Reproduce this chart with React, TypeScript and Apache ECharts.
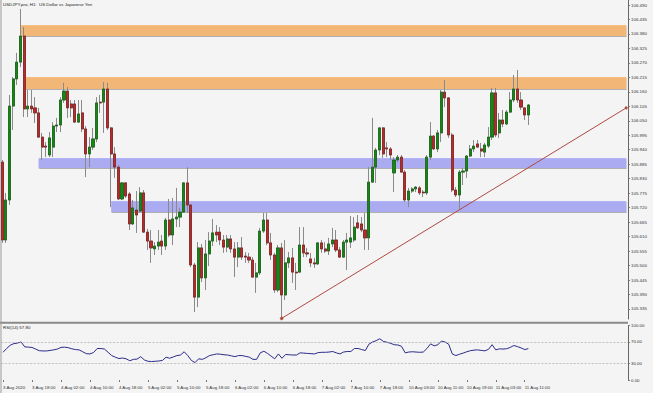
import React, { useEffect, useRef } from 'react';
import * as echarts from 'echarts';

const timeLabels = ['3 Aug 2020', '3 Aug 18:00', '4 Aug 02:00', '4 Aug 10:00', '4 Aug 18:00', '5 Aug 02:00', '5 Aug 10:00', '5 Aug 18:00', '6 Aug 02:00', '6 Aug 10:00', '6 Aug 18:00', '7 Aug 02:00', '7 Aug 10:00', '7 Aug 18:00', '10 Aug 03:00', '10 Aug 11:00', '10 Aug 19:00', '11 Aug 03:00', '11 Aug 11:00'];

const opens = [105.893, 105.597, 105.749, 106.106, 106.209, 106.273, 106.372, 106.095, 106.106, 106.099, 106.080, 105.988, 105.954, 105.920, 105.950, 106.030, 106.034, 106.129, 106.163, 106.114, 106.114, 106.045, 106.080, 106.019, 105.924, 105.950, 105.981, 106.121, 106.121, 106.171, 106.023, 105.924, 105.874, 105.753, 105.814, 105.772, 105.658, 105.711, 105.707, 105.776, 105.627, 105.593, 105.563, 105.574, 105.593, 105.574, 105.673, 105.616, 105.677, 105.684, 105.703, 105.814, 105.730, 105.502, 105.380, 105.567, 105.453, 105.544, 105.593, 105.627, 105.627, 105.597, 105.570, 105.601, 105.563, 105.532, 105.567, 105.536, 105.532, 105.521, 105.456, 105.472, 105.631, 105.673, 105.586, 105.540, 105.407, 105.567, 105.388, 105.510, 105.529, 105.475, 105.475, 105.578, 105.548, 105.525, 105.510, 105.506, 105.586, 105.563, 105.555, 105.582, 105.597, 105.559, 105.532, 105.589, 105.589, 105.597, 105.662, 105.658, 105.635, 105.605, 105.817, 105.874, 105.939, 106.023, 105.947, 105.943, 105.852, 105.901, 105.912, 105.855, 105.749, 105.783, 105.791, 105.795, 105.779, 105.776, 105.912, 105.992, 105.943, 106.004, 106.159, 106.137, 105.996, 105.787, 105.768, 105.855, 105.859, 105.916, 105.943, 105.962, 105.943, 105.931, 105.954, 105.988, 106.156, 106.004, 106.053, 106.038, 106.083, 106.129, 106.171, 106.129, 106.099, 106.072];

const closes = [105.597, 105.749, 106.106, 106.209, 106.273, 106.372, 106.095, 106.106, 106.095, 106.080, 105.988, 105.950, 105.950, 105.985, 106.030, 106.034, 106.129, 106.163, 106.099, 106.099, 106.045, 106.076, 106.019, 105.924, 105.950, 105.981, 106.118, 106.118, 106.171, 106.023, 105.924, 105.874, 105.753, 105.814, 105.764, 105.658, 105.719, 105.692, 105.776, 105.627, 105.593, 105.567, 105.574, 105.589, 105.574, 105.673, 105.616, 105.677, 105.684, 105.703, 105.814, 105.730, 105.502, 105.380, 105.567, 105.453, 105.544, 105.593, 105.624, 105.616, 105.597, 105.570, 105.601, 105.563, 105.532, 105.567, 105.532, 105.532, 105.521, 105.456, 105.472, 105.631, 105.673, 105.586, 105.540, 105.407, 105.567, 105.388, 105.510, 105.529, 105.475, 105.472, 105.578, 105.548, 105.544, 105.510, 105.506, 105.586, 105.563, 105.555, 105.582, 105.597, 105.559, 105.532, 105.589, 105.597, 105.605, 105.646, 105.643, 105.635, 105.605, 105.817, 105.874, 105.939, 106.023, 105.924, 105.943, 105.920, 105.901, 105.912, 105.855, 105.749, 105.783, 105.791, 105.798, 105.776, 105.776, 105.912, 105.992, 105.943, 106.004, 106.159, 106.137, 105.996, 105.787, 105.768, 105.855, 105.859, 105.916, 105.943, 105.954, 105.950, 105.935, 105.958, 105.988, 106.156, 105.996, 106.053, 106.038, 106.083, 106.129, 106.171, 106.129, 106.102, 106.072, 106.110];

const lows = [105.586, 105.586, 105.730, 106.015, 106.186, 106.254, 106.064, 106.064, 106.080, 106.042, 105.985, 105.901, 105.912, 105.912, 105.912, 106.007, 106.007, 106.118, 106.061, 106.064, 106.042, 106.042, 106.007, 105.836, 105.874, 105.939, 105.969, 106.080, 106.004, 106.015, 105.722, 105.833, 105.749, 105.749, 105.757, 105.635, 105.654, 105.624, 105.700, 105.624, 105.559, 105.510, 105.540, 105.559, 105.540, 105.559, 105.608, 105.578, 105.646, 105.646, 105.700, 105.700, 105.494, 105.323, 105.342, 105.437, 105.407, 105.498, 105.574, 105.589, 105.578, 105.548, 105.551, 105.548, 105.456, 105.494, 105.521, 105.510, 105.510, 105.453, 105.396, 105.464, 105.624, 105.578, 105.521, 105.396, 105.399, 105.299, 105.369, 105.491, 105.434, 105.407, 105.472, 105.532, 105.532, 105.494, 105.491, 105.502, 105.548, 105.548, 105.540, 105.570, 105.551, 105.529, 105.529, 105.483, 105.567, 105.589, 105.639, 105.627, 105.559, 105.559, 105.814, 105.814, 105.920, 105.909, 105.912, 105.901, 105.779, 105.893, 105.852, 105.741, 105.722, 105.776, 105.779, 105.768, 105.760, 105.768, 105.901, 105.939, 105.931, 105.969, 106.102, 105.985, 105.779, 105.760, 105.711, 105.806, 105.833, 105.912, 105.931, 105.947, 105.912, 105.912, 105.947, 105.977, 105.988, 105.985, 106.026, 106.034, 106.080, 106.121, 106.118, 106.091, 106.053, 106.034];

const highs = [105.901, 105.776, 106.148, 106.216, 106.308, 106.475, 106.406, 106.167, 106.167, 106.140, 106.099, 106.004, 105.969, 106.007, 106.045, 106.061, 106.140, 106.194, 106.178, 106.129, 106.129, 106.129, 106.129, 106.030, 105.988, 106.023, 106.140, 106.148, 106.197, 106.194, 106.026, 105.950, 105.882, 105.817, 105.817, 105.779, 105.749, 105.783, 105.798, 105.787, 105.639, 105.635, 105.589, 105.635, 105.616, 105.681, 105.753, 105.757, 105.795, 105.719, 105.817, 105.874, 105.734, 105.510, 105.589, 105.582, 105.597, 105.627, 105.677, 105.654, 105.646, 105.616, 105.616, 105.616, 105.589, 105.589, 105.608, 105.551, 105.548, 105.532, 105.510, 105.643, 105.700, 105.700, 105.624, 105.548, 105.578, 105.586, 105.597, 105.551, 105.567, 105.510, 105.646, 105.646, 105.567, 105.548, 105.529, 105.589, 105.597, 105.589, 105.605, 105.643, 105.635, 105.570, 105.597, 105.624, 105.688, 105.684, 105.692, 105.684, 105.700, 105.874, 106.061, 105.947, 106.026, 106.026, 105.969, 105.950, 105.912, 105.920, 105.920, 105.863, 105.795, 105.798, 105.802, 105.802, 105.787, 105.920, 106.045, 105.996, 106.015, 106.167, 106.205, 106.140, 106.004, 105.798, 105.863, 105.871, 105.920, 105.958, 105.977, 105.977, 105.966, 105.966, 106.026, 106.175, 106.175, 106.080, 106.091, 106.091, 106.159, 106.224, 106.243, 106.159, 106.102, 106.114];

const rsi14 = [51, 58, 64, 67, 68, 70, 61, 60.5, 60, 57, 54, 53.5, 53.5, 54.5, 55.5, 57, 60, 60.5, 59.5, 57.5, 56, 55.5, 52, 48.5, 48, 50.6, 58, 58, 57, 51, 45, 42, 39.5, 40.5, 39, 35.5, 38, 38.5, 43, 37, 34.5, 34, 34.5, 35, 36, 42, 40, 42.5, 45, 46, 52, 45, 36, 32, 39, 38, 41, 45, 46.5, 48, 47.5, 46.5, 46, 44.5, 43, 45, 45, 43.5, 42, 38, 38, 50, 53, 49, 44, 39, 48, 40, 47, 46.5, 46, 46, 50, 49.5, 49, 48.5, 48, 50.5, 51, 51, 51.5, 52.5, 50, 48, 51.5, 52.5, 52.5, 58, 58, 56, 54.3, 66, 70, 72.5, 76, 71, 69.5, 67.5, 65, 64.5, 62, 50, 51.5, 52, 51.5, 51, 51.5, 58, 66.5, 63, 65, 71.5, 70, 66, 48, 45, 47.5, 49.5, 52, 54, 55, 55.5, 54.5, 53.7, 56.5, 65, 55.5, 57.4, 57, 57.5, 60, 63.5, 61.5, 59, 56, 57.8];

const priceTicks = [105.335, 105.390, 105.445, 105.500, 105.555, 105.610, 105.665, 105.720, 105.775, 105.830, 105.885, 105.940, 105.995, 106.050, 106.105, 106.160, 106.215, 106.270, 106.325, 106.380, 106.435, 106.490];
const rsiTicks = [0, 30, 70, 100];

// supply / demand zones: [lower price, upper price], first bar index
const orangeZones = [[106.372, 106.414], [106.171, 106.216]];
const orangeStarts = [5, 6];
const blueZones = [[105.871, 105.909], [105.703, 105.745]];
const blueStarts = [10, 30];

const trendBars = [77, 172];
const trendPrices = [105.299, 106.099];
const totalBars = 173;

const FONT = 'Liberation Sans, Arial, sans-serif';

export default function App() {
  const ref = useRef<HTMLDivElement>(null);
  useEffect(() => {
    if (!ref.current) return;
    const chart = echarts.init(ref.current, undefined, { renderer: 'svg' });
    const cats = Array.from({ length: totalBars }, (_, i) => String(i));
    const wickData = opens.map((o, i) => [o, closes[i], lows[i], highs[i]]);
    const bodyData = opens.map((o, i) => [o, closes[i], Math.min(o, closes[i]), Math.max(o, closes[i])]);
    const hasLabel = (i: number) => i % 8 === 0 && i / 8 < timeLabels.length;

    const zoneArea = (zones: number[][], starts: number[], color: string) =>
      zones.map((z, k) => [
        { xAxis: starts[k], yAxis: z[1], itemStyle: { color } },
        { xAxis: totalBars - 1, yAxis: z[0] },
      ]);

    const option: any = {
      animation: false,
      backgroundColor: '#f4f4f4',
      textStyle: { fontFamily: FONT },
      grid: [
        { left: 0.5, right: 25, top: 0, height: 319 },
        { left: 0.5, right: 25, top: 325.7, height: 54.3 },
      ],
      xAxis: [
        { type: 'category', gridIndex: 0, data: cats, boundaryGap: true, show: false },
        {
          type: 'category', gridIndex: 1, data: cats, boundaryGap: true, offset: 2,
          axisLine: { show: false },
          axisTick: { show: true, interval: (i: number) => hasLabel(i), alignWithLabel: true, length: 2, lineStyle: { color: '#555', width: 0.8 } },
          axisLabel: {
            interval: (i: number) => hasLabel(i), fontSize: 4.4, color: '#333', align: 'left', margin: 3, fontFamily: FONT,
            formatter: (_v: string, i: number) => (hasLabel(i) ? timeLabels[i / 8] : ''),
          },
          splitLine: { show: false },
        },
      ],
      yAxis: [
        {
          type: 'value', gridIndex: 0, position: 'right', min: 105.2968, max: 106.509,
          axisLine: { show: true, lineStyle: { color: '#666', width: 1 } },
          axisTick: { show: true, length: 2, customValues: priceTicks, lineStyle: { color: '#666', width: 0.8 } },
          axisLabel: { customValues: priceTicks, formatter: (v: number) => v.toFixed(3), fontSize: 4.4, color: '#333', margin: 3, fontFamily: FONT },
          splitLine: { show: false },
        },
        {
          type: 'value', gridIndex: 1, position: 'right', min: 0, max: 100,
          axisLine: { show: true, lineStyle: { color: '#666', width: 1 } },
          axisTick: { show: true, length: 2, customValues: rsiTicks, lineStyle: { color: '#666', width: 0.8 } },
          axisLabel: { customValues: rsiTicks, formatter: (v: number) => v.toFixed(2), fontSize: 4.4, color: '#333', margin: 3, fontFamily: FONT },
          splitLine: { show: false },
        },
      ],
      series: [
        {
          type: 'candlestick', name: 'wicks', xAxisIndex: 0, yAxisIndex: 0, data: wickData, barWidth: 2.6, z: 2, silent: true,
          itemStyle: { color: 'rgba(0,0,0,0)', color0: 'rgba(0,0,0,0)', borderColor: '#8a8a8a', borderColor0: '#8a8a8a', borderColorDoji: '#8a8a8a', borderWidth: 1 },
        },
        {
          type: 'candlestick', name: 'bodies', xAxisIndex: 0, yAxisIndex: 0, data: bodyData, barWidth: 2.6, z: 3, silent: true,
          itemStyle: { color: '#128a12', color0: '#bb2a2a', borderColor: '#0b560b', borderColor0: '#761616', borderColorDoji: '#555', borderWidth: 0.6 },
        },
        {
          type: 'line', name: 'zones', xAxisIndex: 0, yAxisIndex: 0, data: [], z: 5, silent: true,
          markArea: {
            silent: true,
            itemStyle: { shadowColor: 'rgba(0,0,0,0.35)', shadowBlur: 1.5, shadowOffsetX: 0.5, shadowOffsetY: 1 },
            data: [
              ...zoneArea(orangeZones, orangeStarts, 'rgba(249,176,100,0.8)'),
              ...zoneArea(blueZones, blueStarts, 'rgba(164,164,247,0.8)'),
            ],
          },
          markLine: {
            silent: true, symbol: ['rect', 'circle'], symbolSize: 3,
            label: { show: false },
            lineStyle: { color: '#b04a40', width: 1, type: 'solid' },
            data: [[
              { coord: [trendBars[0], trendPrices[0]] },
              { coord: [trendBars[1], trendPrices[1]] },
            ]],
          },
        },
        {
          type: 'line', name: 'RSI(14)', xAxisIndex: 1, yAxisIndex: 1, data: rsi14, showSymbol: false, z: 3, silent: true,
          lineStyle: { color: '#2b2b8a', width: 1 },
          markLine: {
            silent: true, symbol: 'none', label: { show: false },
            lineStyle: { color: '#a8a8a8', type: 'dashed', width: 0.6 },
            data: [{ yAxis: 70 }, { yAxis: 30 }],
          },
        },
      ],
      graphic: [
        { type: 'text', left: 3, top: 2.5, style: { text: 'USDJPY.pro, H1:  US Dollar vs Japanese Yen', fontSize: 4.4, fill: '#222', fontFamily: FONT } },
        { type: 'text', left: 3, top: 325.5, style: { text: 'RSI(14) 57.80', fontSize: 4.4, fill: '#222', fontFamily: FONT } },
        { type: 'line', shape: { x1: 0, y1: 322.8, x2: 628, y2: 322.8 }, style: { stroke: '#8a8a8a', lineWidth: 2 } },
        { type: 'line', shape: { x1: 1, y1: 0, x2: 1, y2: 393 }, style: { stroke: '#9a9a9a', lineWidth: 1 } },
      ],
    };
    chart.setOption(option);
    return () => chart.dispose();
  }, []);
  return <div ref={ref} style={{ position: 'fixed', left: 0, top: 0, width: 653, height: 393 }} />;
}
